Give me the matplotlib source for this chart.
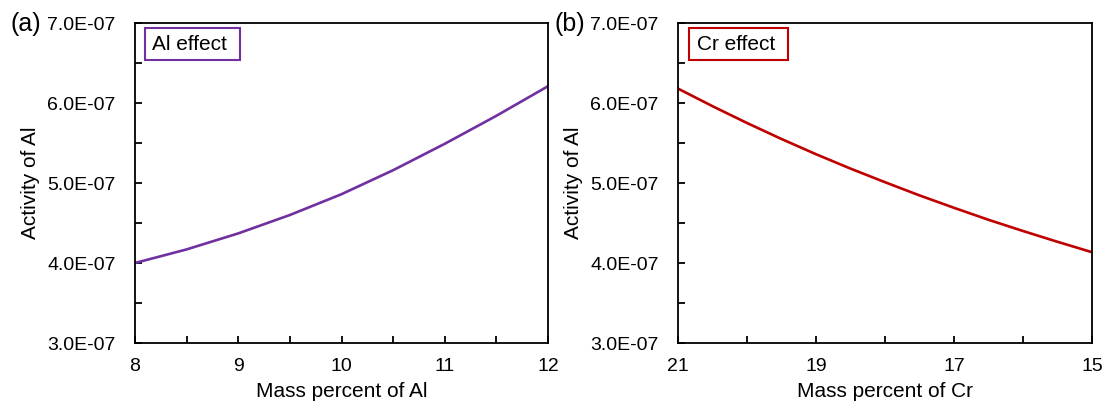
import numpy as np
import matplotlib
matplotlib.use("Agg")
import matplotlib.pyplot as plt
from matplotlib.patches import Rectangle
from matplotlib.ticker import MultipleLocator, FixedLocator, FuncFormatter

plt.rcParams['font.family'] = ['Liberation Sans', 'DejaVu Sans']

# Al effect: activity of Al vs mass percent of Al
al_mass = [8, 8.5, 9, 9.5, 10, 10.5, 11, 11.5, 12]
al_act = [4.00e-7, 4.17e-7, 4.37e-7, 4.60e-7, 4.86e-7, 5.16e-7, 5.49e-7, 5.84e-7, 6.21e-7]

# Cr effect: activity of Al vs mass percent of Cr
cr_mass = [21, 20.5, 20, 19.5, 19, 18.5, 18, 17.5, 17, 16.5, 16, 15.5, 15]
cr_act = [6.18e-7, 5.96e-7, 5.75e-7, 5.55e-7, 5.36e-7, 5.18e-7, 5.01e-7,
          4.845e-7, 4.69e-7, 4.54e-7, 4.40e-7, 4.265e-7, 4.135e-7]

cr_major = [21, 19, 17, 15]
cr_minor = [20, 18, 16]

purple = '#7030A0'
red = '#C00000'

fig = plt.figure(figsize=(11.07, 4.12), dpi=100)
ax1 = fig.add_axes([135 / 1107, 69 / 412, 413 / 1107, 320 / 412])
ax2 = fig.add_axes([678 / 1107, 69 / 412, 414 / 1107, 320 / 412])

yfmt = FuncFormatter(lambda v, p: f"{v:.1E}")


def style(ax, xlabel):
    ax.set_ylim(3e-7, 7e-7)
    ax.yaxis.set_major_locator(MultipleLocator(1e-7))
    ax.yaxis.set_minor_locator(MultipleLocator(0.5e-7))
    ax.yaxis.set_major_formatter(yfmt)
    ax.tick_params(which='both', direction='in', length=5, width=1.3,
                   top=False, right=False, labelsize=14, pad=14)
    ax.tick_params(axis='x', pad=11)
    for s in ax.spines.values():
        s.set_linewidth(1.3)
    ax.set_xlabel(xlabel, fontsize=15, labelpad=5)
    ax.set_ylabel('Activity of Al', fontsize=15, labelpad=5)


def label_box(ax, text, color, x0, w, tx):
    ax.add_patch(Rectangle((x0, 0.884), w, 0.1, transform=ax.transAxes,
                           fill=False, ec=color, lw=1.5, clip_on=False))
    ax.text(tx, 0.934, text, transform=ax.transAxes, fontsize=15,
            va='center', ha='left')


ax1.plot(al_mass, al_act, color=purple, linewidth=1.9)
ax1.set_xlim(8, 12)
ax1.xaxis.set_major_locator(MultipleLocator(1))
ax1.xaxis.set_minor_locator(MultipleLocator(0.5))
style(ax1, 'Mass percent of Al')
label_box(ax1, 'Al effect', purple, 0.024, 0.230, 0.041)

ax2.plot(cr_mass, cr_act, color=red, linewidth=1.9)
ax2.set_xlim(21, 15)
ax2.xaxis.set_major_locator(FixedLocator(cr_major))
ax2.xaxis.set_minor_locator(FixedLocator(cr_minor))
style(ax2, 'Mass percent of Cr')
label_box(ax2, 'Cr effect', red, 0.027, 0.239, 0.045)

fig.text(10 / 1107, 1 - 24 / 412, '(a)', fontsize=18, va='center', ha='left')
fig.text(555 / 1107, 1 - 24 / 412, '(b)', fontsize=18, va='center', ha='left')

fig.savefig('out.png', dpi=100)
